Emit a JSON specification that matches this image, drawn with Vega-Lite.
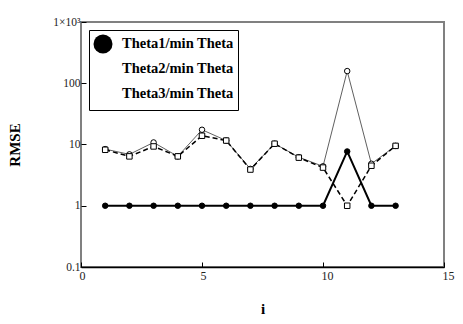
{
  "$schema": "https://vega.github.io/schema/vega-lite/v6.json",
  "width": 363,
  "height": 245,
  "autosize": "none",
  "padding": {"left": 81, "top": 22, "right": 19, "bottom": 57},
  "background": "white",
  "config": {
    "view": {"stroke": "#808080", "strokeWidth": 2},
    "font": "Liberation Serif",
    "legend": {
      "orient": "top-left",
      "offset": 8,
      "padding": 4,
      "strokeColor": "black",
      "fillColor": "white",
      "labelFont": "Liberation Serif",
      "labelFontWeight": "bold",
      "labelFontSize": 14.5,
      "labelColor": "black",
      "labelOffset": 9,
      "symbolSize": 361,
      "symbolStrokeColor": "black",
      "symbolStrokeWidth": 1,
      "rowPadding": 1
    },
    "axis": {
      "grid": false,
      "labelFont": "Liberation Serif",
      "labelFontSize": 12,
      "labelColor": "#222",
      "titleFont": "Liberation Serif",
      "titleFontWeight": "bold",
      "titleFontSize": 15,
      "titleColor": "black",
      "tickColor": "black",
      "tickSize": -5,
      "tickWidth": 1
    }
  },
  "data": {
    "values": [
      {"series": "Theta1/min Theta", "i": 1, "v": 1},
      {"series": "Theta1/min Theta", "i": 2, "v": 1},
      {"series": "Theta1/min Theta", "i": 3, "v": 1},
      {"series": "Theta1/min Theta", "i": 4, "v": 1},
      {"series": "Theta1/min Theta", "i": 5, "v": 1},
      {"series": "Theta1/min Theta", "i": 6, "v": 1},
      {"series": "Theta1/min Theta", "i": 7, "v": 1},
      {"series": "Theta1/min Theta", "i": 8, "v": 1},
      {"series": "Theta1/min Theta", "i": 9, "v": 1},
      {"series": "Theta1/min Theta", "i": 10, "v": 1},
      {"series": "Theta1/min Theta", "i": 11, "v": 7.7},
      {"series": "Theta1/min Theta", "i": 12, "v": 1},
      {"series": "Theta1/min Theta", "i": 13, "v": 1},
      {"series": "Theta2/min Theta", "i": 1, "v": 8.4},
      {"series": "Theta2/min Theta", "i": 2, "v": 6.9},
      {"series": "Theta2/min Theta", "i": 3, "v": 10.8},
      {"series": "Theta2/min Theta", "i": 4, "v": 6.4},
      {"series": "Theta2/min Theta", "i": 5, "v": 17.4},
      {"series": "Theta2/min Theta", "i": 6, "v": 11.6},
      {"series": "Theta2/min Theta", "i": 7, "v": 4.0},
      {"series": "Theta2/min Theta", "i": 8, "v": 10.3},
      {"series": "Theta2/min Theta", "i": 9, "v": 6.2},
      {"series": "Theta2/min Theta", "i": 10, "v": 4.4},
      {"series": "Theta2/min Theta", "i": 11, "v": 158},
      {"series": "Theta2/min Theta", "i": 12, "v": 4.85},
      {"series": "Theta2/min Theta", "i": 13, "v": 9.5},
      {"series": "Theta3/min Theta", "i": 1, "v": 8.2},
      {"series": "Theta3/min Theta", "i": 2, "v": 6.4},
      {"series": "Theta3/min Theta", "i": 3, "v": 9.3},
      {"series": "Theta3/min Theta", "i": 4, "v": 6.4},
      {"series": "Theta3/min Theta", "i": 5, "v": 13.9},
      {"series": "Theta3/min Theta", "i": 6, "v": 11.6},
      {"series": "Theta3/min Theta", "i": 7, "v": 3.9},
      {"series": "Theta3/min Theta", "i": 8, "v": 10.3},
      {"series": "Theta3/min Theta", "i": 9, "v": 6.1},
      {"series": "Theta3/min Theta", "i": 10, "v": 4.2},
      {"series": "Theta3/min Theta", "i": 11, "v": 1.0},
      {"series": "Theta3/min Theta", "i": 12, "v": 4.5},
      {"series": "Theta3/min Theta", "i": 13, "v": 9.5}
    ]
  },
  "encoding": {
    "x": {"field": "i", "type": "quantitative", "scale": {"domain": [0, 15], "nice": false},
      "axis": {"orient": "bottom", "title": "i", "values": [0, 5, 10, 15], "domainColor": "black", "domainWidth": 1.5, "labelPadding": 8, "titlePadding": 20, "labelAlign": "left", "labelOffset": -2, "labelFlush": false}},
    "y": {"field": "v", "type": "quantitative", "scale": {"type": "log", "domain": [0.1, 1000], "nice": false},
      "axis": {"orient": "left", "title": "RMSE", "values": [0.1, 1, 10, 100, 1000], "domain": false, "labelPadding": 6, "titlePadding": 30, "labelFontSize": 11.5,
        "labelExpr": "datum.value >= 1000 ? '1×10³' : (datum.value < 1 ? '0.1' : format(datum.value, 'd'))"}}
  },
  "layer": [
    {
      "transform": [{"filter": "datum.series == 'Theta1/min Theta'"}],
      "mark": {"type": "line", "color": "black", "strokeWidth": 2}
    },
    {
      "transform": [{"filter": "datum.series == 'Theta2/min Theta'"}],
      "mark": {"type": "line", "color": "#606060", "strokeWidth": 1}
    },
    {
      "transform": [{"filter": "datum.series == 'Theta3/min Theta'"}],
      "mark": {"type": "line", "color": "black", "strokeWidth": 1.5, "strokeDash": [5, 3]}
    },
    {
      "mark": {"type": "point", "stroke": "black", "strokeWidth": 1, "size": 30, "opacity": 1},
      "encoding": {
        "fill": {"field": "series", "type": "nominal", "title": null,
          "scale": {"domain": ["Theta1/min Theta", "Theta2/min Theta", "Theta3/min Theta"], "range": ["black", "white", "white"]},
          "legend": {
            "encode": {
              "symbols": {
                "stroke": {"value": "black"},
                "strokeWidth": {"value": 1},
                "shape": {
                  "condition": {"test": "datum.value == 'Theta3/min Theta'", "value": "M-1.2,0L1.2,0M-1.22,-0.27h0.54v0.54h-0.54ZM-0.27,-0.27h0.54v0.54h-0.54ZM0.68,-0.27h0.54v0.54h-0.54Z"},
                  "value": "M-1.2,0L1.2,0M-1.21,0A0.26,0.26 0 1,0 -0.69,0A0.26,0.26 0 1,0 -1.21,0ZM-0.26,0A0.26,0.26 0 1,0 0.26,0A0.26,0.26 0 1,0 -0.26,0ZM0.69,0A0.26,0.26 0 1,0 1.21,0A0.26,0.26 0 1,0 0.69,0Z"
                }
              }
            }
          }},
        "shape": {"field": "series", "type": "nominal", "title": null,
          "scale": {"domain": ["Theta1/min Theta", "Theta2/min Theta", "Theta3/min Theta"], "range": ["circle", "circle", "square"]},
          "legend": {
            "encode": {
              "symbols": {
                "stroke": {"value": "black"},
                "strokeWidth": {"value": 1},
                "shape": {
                  "condition": {"test": "datum.value == 'Theta3/min Theta'", "value": "M-1.2,0L1.2,0M-1.22,-0.27h0.54v0.54h-0.54ZM-0.27,-0.27h0.54v0.54h-0.54ZM0.68,-0.27h0.54v0.54h-0.54Z"},
                  "value": "M-1.2,0L1.2,0M-1.21,0A0.26,0.26 0 1,0 -0.69,0A0.26,0.26 0 1,0 -1.21,0ZM-0.26,0A0.26,0.26 0 1,0 0.26,0A0.26,0.26 0 1,0 -0.26,0ZM0.69,0A0.26,0.26 0 1,0 1.21,0A0.26,0.26 0 1,0 0.69,0Z"
                }
              }
            }
          }}
      }
    }
  ]
}
